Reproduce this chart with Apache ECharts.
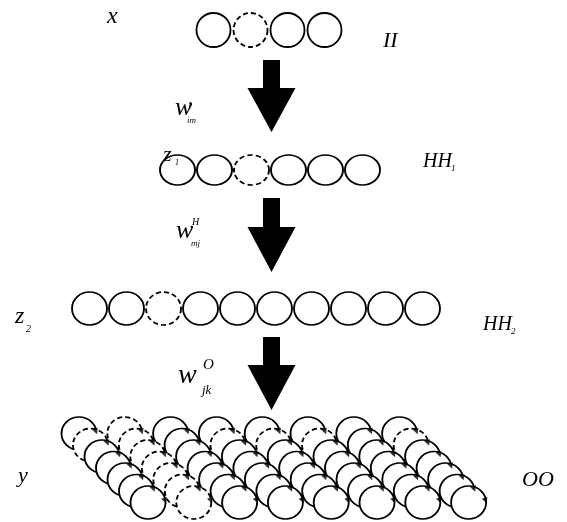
<!DOCTYPE html>
<html><head><meta charset="utf-8">
<script src="https://cdn.jsdelivr.net/npm/echarts@6/dist/echarts.min.js"></script>
<style>html,body{margin:0;padding:0;background:#fff}#c{width:567px;height:522px}</style>
</head><body><div id="c"></div>
<script>
// ---- data ----
const layerNames = ['x', 'z1', 'z2', 'y'];
const layerTags = ['II', 'HH1', 'HH2', 'OO'];
const unitCounts = [4, 6, 10];          // units in input / hidden layers
const droppedUnits = [[1], [2], [2]];   // dashed (dropped) units per layer
const outputColumns = 8;                // output stacks
const outputDepth = 7;                  // units per output stack
const droppedColumns = [1];             // fully dropped output stacks
const droppedSecondUnit = [0, 3, 4, 5, 7]; // stacks whose 2nd unit is dropped
const weightNames = [['w', 'im', 'I'], ['w', 'mj', 'H'], ['w', 'jk', 'O']];

// ---- layout ----
const W = 567, H = 522;
const rowY = [30, 170, 308.5];
const rowX0 = [213.5, 177.5, 89.5];
const rowStep = 37;
const rowSize = [[34, 34], [35, 30], [35, 33]];
const out = { x0: 79, y0: 433.5, colStep: 45.8, depthStep: 11.5, size: [35, 33] };
const arrowGeom = [
  { top: 60, base: 88, tip: 132 },
  { top: 198, base: 227, tip: 272 },
  { top: 337, base: 365, tip: 410 }
];
const arrowCx = 271.5, shaftHalf = 8.5, headHalf = 24;
const LW = 1.8, DASH = [5, 3];

const units = [];
unitCounts.forEach((n, li) => {
  for (let k = 0; k < n; k++) {
    const dashed = droppedUnits[li].indexOf(k) >= 0;
    units.push({
      value: [rowX0[li] + rowStep * k, rowY[li]],
      symbolSize: rowSize[li],
      itemStyle: { borderType: dashed ? DASH : 'solid' }
    });
  }
});
const outUnits = [];
const outArrows = [];
for (let d = 0; d < outputDepth; d++) {
  for (let c = 0; c < outputColumns; c++) {
    const dashed = droppedColumns.indexOf(c) >= 0 || (d === 1 && droppedSecondUnit.indexOf(c) >= 0);
    const cx = out.x0 + out.colStep * c + out.depthStep * d;
    const cy = out.y0 + out.depthStep * d;
    outUnits.push({
      value: [cx, cy],
      symbolSize: out.size,
      itemStyle: { borderType: dashed ? DASH : 'solid' }
    });
    outArrows.push([cx + 17, cy - 2]);
  }
}

const chart = echarts.init(document.getElementById('c'), null, { renderer: 'canvas' });
chart.setOption({
  animation: false,
  backgroundColor: '#fff',
  grid: { left: 0, top: 0, width: W, height: H },
  xAxis: { type: 'value', min: 0, max: W, show: false },
  yAxis: { type: 'value', min: 0, max: H, inverse: true, show: false },
  series: [
    {
      type: 'scatter', symbol: 'circle', data: units, z: 2,
      itemStyle: { color: '#fff', borderColor: '#000', borderWidth: LW, opacity: 1 },
      emphasis: { disabled: true }
    },
    {
      type: 'scatter', symbol: 'circle', data: outUnits, z: 2,
      itemStyle: { color: '#fff', borderColor: '#000', borderWidth: LW, opacity: 1 },
      emphasis: { disabled: true }
    },
    {
      type: 'scatter', symbol: 'triangle', symbolSize: [6, 6], symbolRotate: 200,
      data: outArrows, z: 3,
      itemStyle: { color: '#000' }, emphasis: { disabled: true }
    },
    {
      type: 'custom', z: 4,
      data: arrowGeom.map((a, i) => [i]),
      renderItem: function (params, api) {
        const a = arrowGeom[api.value(0)];
        const pts = [
          [arrowCx - shaftHalf, a.top], [arrowCx + shaftHalf, a.top],
          [arrowCx + shaftHalf, a.base], [arrowCx + headHalf, a.base],
          [arrowCx, a.tip], [arrowCx - headHalf, a.base],
          [arrowCx - shaftHalf, a.base]
        ].map(p => api.coord(p));
        return { type: 'polygon', shape: { points: pts }, style: { fill: '#000' } };
      }
    }
  ]
});

// ---- text labels (baseline positions) ----
const FF = '"Liberation Serif", "Times New Roman", serif';
function sub(s) { return s.replace(/\d$/, ''); }
const textDefs = [
  [layerNames[0], 107, 25, 24],
  [layerTags[0], 383, 48, 22],
  [weightNames[0][0], 175, 117, 26], [weightNames[0][1], 187, 124, 9], [weightNames[0][2], 188, 110, 10],
  ['z', 163, 162, 22], [layerNames[1].slice(1), 175, 166, 8],
  [sub(layerTags[1]), 423, 168, 20], [layerTags[1].slice(-1), 451, 172, 9],
  [weightNames[1][0], 176, 240, 26], [weightNames[1][1], 191, 247, 9], [weightNames[1][2], 192, 226, 10],
  ['z', 15, 325, 24], [layerNames[2].slice(1), 26, 333, 10],
  [sub(layerTags[2]), 483, 331, 20], [layerTags[2].slice(-1), 511, 335, 9],
  [weightNames[2][0], 178, 385, 28], [weightNames[2][1], 202, 395, 13], [weightNames[2][2], 203, 370, 15],
  [layerNames[3], 18, 483, 22],
  [layerTags[3], 522, 487, 22]
];
const graphics = textDefs.map(t => {
  const p = chart.convertToPixel({ gridIndex: 0 }, [t[1], t[2]]);
  return {
    type: 'text', x: p[0], y: p[1] - 0.33 * t[3], silent: true, z: 10,
    style: { text: t[0], font: 'italic ' + t[3] + 'px ' + FF, fill: '#000', textAlign: 'left', textVerticalAlign: 'middle' }
  };
});
chart.setOption({ graphic: graphics });
</script>
</body></html>
